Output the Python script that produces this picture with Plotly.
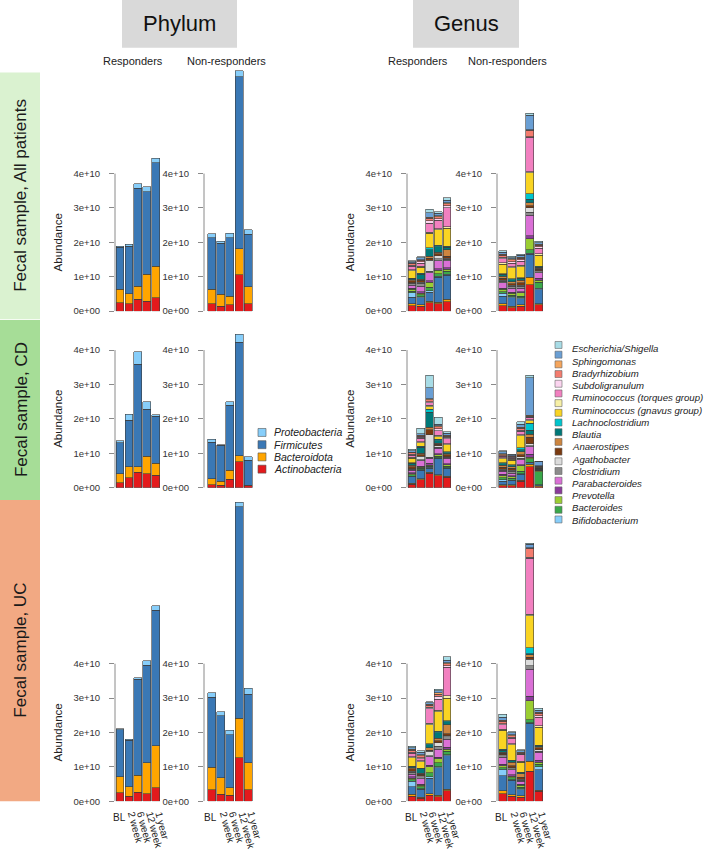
import plotly.graph_objects as go

# ---------------- data ----------------
TIMEPOINTS = ["BL", "2 week", "6 week", "12 week", "1 year"]
ROW_LABELS = ["Fecal sample, All patients", "Fecal sample, CD", "Fecal sample, UC"]
GROUPS = ["Responders", "Non-responders"]
PANEL_HEADERS = ["Phylum", "Genus"]

# phylum stack, bottom -> top
PHYLA = ["Actinobacteria", "Bacteroidota", "Firmicutes", "Proteobacteria"]
PHYLUM_COLORS = ["#e31a1c", "#ffa500", "#3a78b5", "#87cefa"]
PHYLUM_LEGEND = ["Proteobacteria", "Firmicutes", "Bacteroidota", "Actinobacteria"]
PHYLUM_LEGEND_COLORS = ["#87cefa", "#3a78b5", "#ffa500", "#e31a1c"]

# abundance in units of 1e9; one row per time point, columns follow PHYLA
PHY_ALL_R = [[2.5, 3.9, 12.2, 0.3], [2.2, 2.9, 13.8, 0.5], [3.4, 3.8, 28.6, 1.3], [2.9, 7.9, 23.9, 1.4], [3.9, 9.2, 30.1, 1.2]]
PHY_ALL_N = [[2.1, 4.2, 15.1, 1.1], [1.4, 3.5, 14.9, 0.5], [1.9, 2.4, 17.1, 1.2], [10.6, 7.5, 50.1, 1.7], [2.1, 5.0, 15.3, 1.2]]
PHY_CD_R = [[1.4, 2.6, 9.0, 0.7], [2.9, 3.1, 13.6, 1.8], [4.5, 1.5, 29.8, 3.7], [4.0, 5.1, 13.7, 2.2], [3.6, 3.5, 13.6, 0.5]]
PHY_CD_N = [[0.8, 1.8, 10.6, 0.8], [0.7, 1.2, 10.4, 0.2], [2.5, 2.5, 18.9, 1.0], [7.5, 1.7, 33.0, 2.4], [0.5, 0.2, 7.3, 1.0]]
PHY_UC_R = [[2.5, 4.7, 13.6, 0.3], [1.4, 2.9, 13.5, 0.3], [2.6, 5.0, 27.9, 0.4], [2.2, 9.0, 28.4, 1.3], [3.9, 12.3, 39.3, 1.4]]
PHY_UC_N = [[3.4, 6.5, 20.3, 1.4], [2.1, 4.7, 18.1, 1.1], [1.7, 2.2, 15.5, 1.3], [12.6, 11.6, 61.5, 1.3], [3.3, 7.9, 19.9, 1.7]]

# genus legend: 19 colour keys (top -> bottom) and 15 labels as printed
GENUS_LEGEND_LABELS = ["Escherichia/Shigella", "Sphingomonas", "Bradyrhizobium", "Subdoligranulum",
                       "Ruminococcus (torques group)", "Ruminococcus (gnavus group)", "Lachnoclostridium",
                       "Blautia", "Anaerostipes", "Agathobacter", "Clostridium", "Parabacteroides",
                       "Prevotella", "Bacteroides", "Bifidobacterium"]
GENUS_KEY_COLORS = ["#a8dce6", "#6a9fd4", "#f5a55c", "#f47c6e", "#fcd5f0", "#f280c0", "#f7f0a6", "#f9d423",
                    "#00c5cd", "#007878", "#cd853f", "#7a3a10", "#dcdcdc", "#8c8c8c", "#da70d6", "#8b3a9a",
                    "#9acd32", "#3aa84a", "#87cefa"]

# genus stack, bottom -> top (3 residual groups + the 19 keyed genera, reversed)
GENUS_SERIES = ["Actinobacteria (other)", "Bacteroidota (other)", "Firmicutes (other)",
                "Bifidobacterium", "Bacteroides", "Prevotella", "Prevotella (2)", "Parabacteroides",
                "Clostridium", "Agathobacter", "Agathobacter (2)", "Anaerostipes", "Blautia",
                "Lachnoclostridium", "Ruminococcus (gnavus group)", "Ruminococcus (gnavus group) (2)",
                "Ruminococcus (torques group)", "Subdoligranulum", "Bradyrhizobium", "Bradyrhizobium (2)",
                "Sphingomonas", "Escherichia/Shigella"]
GENUS_COLORS = ["#e31a1c", "#ffa500", "#3a78b5"] + GENUS_KEY_COLORS[::-1]

# abundance in units of 1e9; one row per time point, columns follow GENUS_SERIES
GEN_ALL_R = [
    [1.6, 0.6, 1.8, 1.3, 0.5, 0.5, 0.3, 1.0, 0.5, 0.2, 0.5, 0.4, 0.3, 0.1, 2.2, 0.2, 1.0, 0.3, 0.6, 0.2, 0.3, 0.3],
    [1.5, 0.4, 2.0, 0.3, 0.6, 0.4, 0.5, 1.6, 0.8, 0.3, 0.6, 0.3, 1.5, 0.2, 1.8, 0.3, 0.8, 0.5, 0.4, 0.2, 0.5, 0.3],
    [2.5, 0.4, 2.6, 0.5, 1.0, 1.4, 0.5, 2.2, 0.5, 3.2, 0.6, 0.6, 1.8, 0.6, 4.2, 0.4, 2.5, 0.8, 0.7, 0.3, 1.3, 1.0],
    [2.2, 0.4, 7.2, 0.3, 0.8, 1.0, 0.4, 2.3, 0.7, 0.8, 0.6, 0.5, 1.5, 0.4, 4.5, 0.3, 2.5, 0.5, 0.6, 0.3, 0.6, 0.5],
    [2.8, 0.6, 7.0, 0.3, 0.9, 0.6, 0.4, 2.0, 0.5, 0.3, 0.6, 1.8, 0.8, 0.3, 5.2, 0.5, 5.5, 0.5, 0.6, 0.3, 0.8, 0.6],
]
GEN_ALL_N = [
    [1.6, 0.5, 2.3, 0.8, 0.5, 0.6, 0.4, 1.5, 0.5, 0.3, 0.5, 0.6, 0.6, 0.2, 2.8, 0.4, 1.2, 0.4, 0.5, 0.3, 0.7, 0.4],
    [1.0, 0.4, 2.5, 0.3, 0.5, 0.5, 0.3, 1.2, 0.5, 0.3, 0.5, 0.6, 0.6, 0.2, 3.2, 0.3, 1.1, 0.4, 0.5, 0.3, 0.4, 0.3],
    [1.5, 0.4, 1.7, 0.3, 0.5, 0.9, 0.4, 1.0, 0.5, 0.3, 0.8, 0.7, 0.5, 0.2, 3.2, 0.4, 1.2, 0.4, 0.5, 0.3, 0.5, 0.3],
    [7.7, 2.2, 6.7, 0.2, 1.0, 3.3, 0.8, 6.0, 0.8, 1.3, 0.7, 0.8, 1.0, 1.7, 6.0, 0.4, 9.9, 0.2, 1.9, 0.2, 4.1, 0.6],
    [1.9, 0.3, 4.0, 0.5, 1.7, 0.6, 0.5, 1.6, 0.4, 0.3, 0.4, 0.3, 0.3, 0.2, 3.3, 0.4, 1.6, 0.4, 0.5, 0.2, 0.5, 0.4],
]
GEN_CD_R = [
    [1.0, 0.3, 1.8, 0.2, 0.4, 0.3, 0.4, 0.6, 0.3, 0.2, 0.6, 0.4, 0.6, 0.2, 1.2, 0.3, 0.6, 0.3, 0.4, 0.2, 0.4, 0.4],
    [2.3, 0.3, 2.4, 0.2, 0.4, 0.3, 0.3, 1.6, 0.3, 1.0, 0.5, 0.4, 1.8, 0.3, 1.0, 0.3, 0.9, 0.3, 0.4, 0.3, 0.4, 1.5],
    [4.2, 0.3, 1.2, 0.2, 0.3, 0.3, 0.6, 1.5, 0.3, 6.5, 1.5, 0.7, 4.3, 0.9, 0.7, 0.4, 0.8, 0.3, 0.6, 0.3, 3.2, 3.6],
    [3.4, 0.3, 4.8, 0.2, 0.4, 0.5, 0.3, 1.5, 0.3, 0.5, 0.4, 0.3, 0.8, 0.3, 0.8, 0.4, 1.4, 0.5, 0.6, 0.3, 0.4, 2.0],
    [3.0, 0.3, 2.3, 0.2, 0.4, 0.4, 0.4, 1.5, 0.3, 0.2, 0.5, 0.4, 0.3, 0.2, 2.0, 0.4, 1.4, 0.4, 0.4, 0.3, 0.5, 0.4],
]
GEN_CD_N = [
    [0.6, 0.3, 1.0, 0.4, 0.6, 0.5, 0.5, 0.8, 0.4, 0.3, 0.5, 0.6, 0.5, 0.2, 1.2, 0.3, 0.4, 0.2, 0.3, 0.2, 0.6, 0.3],
    [0.5, 0.3, 1.2, 0.2, 0.5, 0.4, 0.3, 0.8, 0.5, 0.3, 0.6, 0.5, 0.3, 0.2, 1.3, 0.3, 0.4, 0.2, 0.3, 0.2, 0.2, 0.2],
    [1.8, 0.4, 1.7, 0.2, 0.6, 1.6, 0.4, 1.4, 0.4, 0.5, 0.6, 0.8, 0.6, 0.6, 3.5, 0.3, 1.0, 0.3, 0.5, 0.3, 1.0, 0.6],
    [6.0, 0.8, 0.4, 0.2, 1.0, 0.5, 0.8, 2.2, 0.3, 0.6, 1.8, 0.9, 1.2, 2.0, 0.8, 0.3, 0.5, 0.2, 0.3, 0.2, 10.9, 0.8],
    [0.3, 0.2, 0.3, 0.0, 3.8, 0.3, 0.1, 0.1, 0.2, 0.1, 0.2, 0.1, 0.1, 0.0, 0.1, 0.1, 0.1, 0.0, 0.1, 0.1, 1.3, 0.1],
]
GEN_UC_R = [
    [1.5, 0.5, 2.2, 1.6, 0.5, 0.4, 0.4, 0.8, 0.5, 0.4, 0.6, 0.3, 0.3, 0.2, 2.4, 0.3, 1.1, 0.3, 0.5, 0.3, 0.5, 0.4],
    [0.9, 0.3, 2.3, 0.2, 0.5, 0.4, 0.4, 1.6, 0.5, 0.3, 0.4, 0.3, 1.3, 0.2, 1.9, 0.3, 0.6, 0.3, 0.6, 0.3, 0.6, 0.5],
    [1.8, 0.4, 4.5, 0.4, 1.2, 1.8, 0.4, 2.4, 0.3, 1.3, 0.4, 0.6, 0.9, 0.3, 5.5, 0.5, 4.2, 0.4, 0.6, 0.3, 0.5, 0.3],
    [1.3, 0.5, 8.0, 0.3, 1.1, 1.1, 0.5, 2.4, 0.8, 1.0, 0.6, 0.8, 1.6, 0.3, 5.8, 0.4, 3.2, 0.8, 0.6, 0.4, 0.6, 0.5],
    [3.0, 0.5, 9.8, 0.3, 1.0, 0.6, 0.5, 2.4, 0.6, 0.4, 0.6, 2.6, 0.8, 0.3, 6.5, 0.8, 8.2, 0.5, 0.6, 0.3, 0.7, 1.0],
]
GEN_UC_N = [
    [2.2, 0.8, 4.5, 1.8, 0.5, 0.5, 0.5, 2.0, 0.4, 0.3, 0.5, 0.3, 0.6, 0.2, 5.5, 0.4, 1.3, 0.3, 0.6, 0.3, 1.0, 0.8],
    [1.4, 0.5, 4.2, 0.2, 0.6, 0.4, 0.4, 1.4, 0.4, 0.3, 0.6, 0.9, 0.5, 0.2, 4.5, 0.3, 1.5, 0.3, 0.5, 0.3, 0.5, 0.3],
    [1.2, 0.4, 1.8, 0.2, 0.5, 0.5, 0.4, 0.8, 0.3, 0.3, 0.6, 1.0, 0.3, 0.2, 2.9, 0.3, 1.8, 0.2, 0.3, 0.2, 0.5, 0.3],
    [8.7, 3.0, 11.0, 0.2, 0.8, 5.6, 1.3, 7.8, 1.0, 1.9, 0.6, 0.7, 0.3, 1.7, 9.4, 0.4, 16.2, 0.3, 2.6, 0.2, 1.0, 0.3],
    [2.9, 0.3, 6.0, 0.8, 0.8, 0.6, 0.5, 2.3, 0.4, 0.4, 0.5, 0.3, 0.3, 0.2, 5.2, 0.5, 2.4, 0.4, 0.8, 0.3, 0.5, 0.6],
]

Y_TICKS = [0, 1e10, 2e10, 3e10, 4e10]
Y_TICK_TEXT = ["0e+00", "1e+10", "2e+10", "3e+10", "4e+10"]

# panel grid: rows x [phylum R, phylum NR, genus R, genus NR]
PANELS = [
    [PHY_ALL_R, PHY_ALL_N, GEN_ALL_R, GEN_ALL_N],
    [PHY_CD_R, PHY_CD_N, GEN_CD_R, GEN_CD_N],
    [PHY_UC_R, PHY_UC_N, GEN_UC_R, GEN_UC_N],
]

# ---------------- layout geometry (pixels) ----------------
W, H = 708, 857
FONT = "Liberation Sans"


def fx(px):
    return px / W


def fy(py):
    return 1 - py / H


COLS = [dict(ax=115, c0=120.0, d=8.9, bw=7.8),
        dict(ax=204, c0=211.7, d=9.1, bw=8.0),
        dict(ax=407, c0=412.0, d=8.75, bw=7.8),
        dict(ax=497, c0=502.5, d=9.0, bw=8.0)]
ROWS = [dict(bot=313, top=60), dict(bot=490.5, top=328), dict(bot=806, top=500)]
PX_PER_UNIT = 34.6 / 1e10

fig = go.Figure()
layout = dict(width=W, height=H, margin=dict(l=0, r=0, t=0, b=0), barmode="stack",
              plot_bgcolor="white", paper_bgcolor="white", showlegend=False,
              font=dict(family=FONT, color="#222"))
shapes, annotations = [], []


def note(text, x, y, size, xref="paper", yref="paper", xanchor="center", yanchor="middle", angle=0,
         color="#222"):
    annotations.append(dict(text=text, xref=xref, yref=yref, x=x, y=y, xanchor=xanchor, yanchor=yanchor,
                            textangle=angle, showarrow=False, font=dict(size=size, color=color, family=FONT)))


for r, row in enumerate(ROWS):
    for c, col in enumerate(COLS):
        k = r * 4 + c + 1
        xn = "x" if k == 1 else f"x{k}"
        yn = "y" if k == 1 else f"y{k}"
        right = col["c0"] + 4 * col["d"] + col["bw"] / 2 + 1
        layout["xaxis" if k == 1 else f"xaxis{k}"] = dict(
            domain=[fx(col["ax"]), fx(right)],
            range=[(col["ax"] - col["c0"]) / col["d"], (right - col["c0"]) / col["d"]],
            visible=False, anchor=yn, fixedrange=True)
        layout["yaxis" if k == 1 else f"yaxis{k}"] = dict(
            domain=[fy(row["bot"]), fy(row["top"])],
            range=[0, (row["bot"] - row["top"]) / PX_PER_UNIT],
            tickvals=Y_TICKS, ticktext=Y_TICK_TEXT, ticks="outside", ticklen=5,
            tickcolor="#8a8a8a", tickwidth=1, showline=False, showgrid=False, zeroline=False,
            tickfont=dict(size=9.5, color="#333", family=FONT), ticklabelstandoff=7,
            anchor=xn, fixedrange=True)
        # R-style axis line that stops at the last tick
        shapes.append(dict(type="line", xref=f"{xn} domain", yref=yn, x0=0, x1=0, y0=0, y1=4e10,
                           line=dict(color="#8a8a8a", width=1)))
        data = PANELS[r][c]
        names = PHYLA if c < 2 else GENUS_SERIES
        colors = PHYLUM_COLORS if c < 2 else GENUS_COLORS
        for s, (nm, colr) in enumerate(zip(names, colors)):
            fig.add_trace(go.Bar(
                x=list(range(len(TIMEPOINTS))), y=[bar[s] * 1e9 for bar in data],
                name=nm, width=col["bw"] / col["d"], xaxis=xn, yaxis=yn,
                marker=dict(color=colr, line=dict(color="#3c3c3c", width=0.6)),
                customdata=TIMEPOINTS, hovertemplate="%{customdata}: %{y:.2e}<extra>" + nm + "</extra>"))
        if c in (0, 2):
            note("Abundance", fx(58 if c == 0 else 350), 2e10, 11.5, yref=yn, angle=-90)
        if r == 2:
            for i, tp in enumerate(TIMEPOINTS):
                if i == 0:
                    note(tp, i - 0.1, fy(822), 10, xref=xn)
                else:
                    note(tp, i - 5 / col["d"], fy(813), 10, xref=xn, xanchor="left", yanchor="top", angle=75)

# row label boxes
ROW_BOX = [(73, 321, "#daf2d0"), (322, 503, "#a6dd97"), (503, 806, "#f2a983")]
for (y0, y1, colr), lab in zip(ROW_BOX, ROW_LABELS):
    shapes.append(dict(type="rect", xref="paper", yref="paper", x0=0, x1=fx(40), y0=fy(y1), y1=fy(y0),
                       fillcolor=colr, line=dict(width=0), layer="below"))
    note(lab, fx(21), fy((y0 + y1) / 2), 17, angle=-90, color="#1a1a1a")

# header boxes
for (x0, x1), lab in zip([(122, 237), (413, 519)], PANEL_HEADERS):
    shapes.append(dict(type="rect", xref="paper", yref="paper", x0=fx(x0), x1=fx(x1), y0=fy(48), y1=1,
                       fillcolor="#d9d9d9", line=dict(width=0), layer="below"))
    note(lab, fx((x0 + x1) / 2), fy(24), 22, color="#111")

# group subtitles
for xc, lab in zip([133, 226, 418, 507], GROUPS * 2):
    note(lab, fx(xc), fy(61), 11)

# phylum legend
for i, (lab, colr) in enumerate(zip(PHYLUM_LEGEND, PHYLUM_LEGEND_COLORS)):
    yc = 435 + i * 12.3
    shapes.append(dict(type="rect", xref="paper", yref="paper", x0=fx(258), x1=fx(266),
                       y0=fy(yc + 4), y1=fy(yc - 4), fillcolor=colr, line=dict(color="#555", width=0.6)))
    note(f"<i>{lab}</i>", fx(272), fy(yc), 10.5, xanchor="left")

# genus legend (19 keys, 15 labels as in the original)
for i, colr in enumerate(GENUS_KEY_COLORS):
    yc = 347 + i * 9.75
    shapes.append(dict(type="rect", xref="paper", yref="paper", x0=fx(555), x1=fx(562),
                       y0=fy(yc + 3.5), y1=fy(yc - 3.5), fillcolor=colr, line=dict(color="#666", width=0.6)))
for i, lab in enumerate(GENUS_LEGEND_LABELS):
    yc = 351 + i * 12.3
    note(f"<i>{lab}</i>", fx(570), fy(yc), 9.6, xanchor="left")

layout["shapes"] = shapes
layout["annotations"] = annotations
fig.update_layout(**layout)
fig.write_html("out.html")
